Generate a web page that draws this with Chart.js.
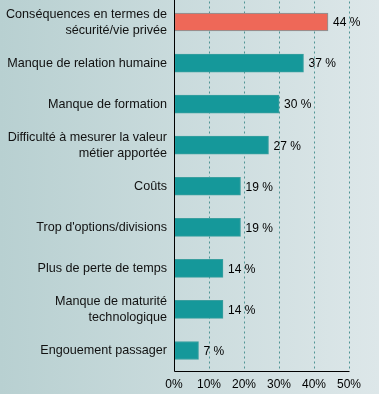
<!DOCTYPE html>
<html><head><meta charset="utf-8">
<script src="https://cdn.jsdelivr.net/npm/chart.js@4"></script>
<style>html,body{margin:0;padding:0;overflow:hidden}#w{width:379px;height:394px;position:relative}</style>
</head><body><div id="w"><canvas id="c"></canvas></div>
<script>
const categories = [
  ["Conséquences en termes de","sécurité/vie privée"],
  "Manque de relation humaine",
  "Manque de formation",
  ["Difficulté à mesurer la valeur","métier apportée"],
  "Coûts",
  "Trop d'options/divisions",
  "Plus de perte de temps",
  ["Manque de maturité","technologique"],
  "Engouement passager"
];
const values = [44, 37, 30, 27, 19, 19, 14, 14, 7];
const xTicks = [0, 10, 20, 30, 40, 50];

const barColors = values.map((v,i)=> i===0 ? '#ee6858' : '#15989a');
const borderColors = values.map((v,i)=> i===0 ? '#7f989c' : '#3a9f9f');

const bgPlugin = {
  id:'bg',
  beforeDraw(chart){
    const ctx = chart.ctx;
    const g = ctx.createLinearGradient(0,0,chart.width,0);
    g.addColorStop(0,'#b8d0d1');
    g.addColorStop(1,'#dde7e9');
    ctx.save();
    ctx.fillStyle = g;
    ctx.fillRect(0,0,chart.width,chart.height);
    ctx.restore();
  }
};
const labelPlugin = {
  id:'vals',
  afterDatasetsDraw(chart){
    const ctx = chart.ctx;
    const meta = chart.getDatasetMeta(0);
    ctx.save();
    ctx.font = '12px "Liberation Sans", Arial, sans-serif';
    ctx.fillStyle = '#000';
    ctx.textBaseline = 'middle';
    ctx.textAlign = 'left';
    meta.data.forEach((bar,i)=>{
      ctx.fillText(values[i] + ' %', bar.x + 5, bar.y + 1);
    });
    ctx.restore();
  }
};
const axisPlugin = {
  id:'axes',
  afterDraw(chart){
    const a = chart.chartArea, ctx = chart.ctx;
    ctx.save();
    ctx.strokeStyle = '#000';
    ctx.lineWidth = 1;
    ctx.beginPath();
    ctx.moveTo(Math.round(a.left)+0.5, 0);
    ctx.lineTo(Math.round(a.left)+0.5, Math.round(a.bottom)+0.5);
    ctx.lineTo(Math.round(a.right)+0.5, Math.round(a.bottom)+0.5);
    ctx.stroke();
    ctx.restore();
  }
};

new Chart(document.getElementById('c'), {
  type:'bar',
  data:{
    labels: categories,
    datasets:[{
      data: values,
      backgroundColor: barColors,
      borderColor: borderColors,
      borderWidth: 1,
      borderSkipped: false,
      barThickness: 18
    }]
  },
  options:{
    indexAxis:'y',
    responsive:true,
    maintainAspectRatio:false,
    animation:false,
    devicePixelRatio:1,
    layout:{padding:{top:1.5, right:30, left:0, bottom:0}},
    plugins:{legend:{display:false}, tooltip:{enabled:false}},
    scales:{
      x:{
        min:0, max:50,
        afterBuildTicks(scale){ scale.ticks = xTicks.map(v=>({value:v})); },
        afterFit(scale){ scale.height = 23; scale.paddingLeft = 0; scale.paddingRight = 0; },
        grid:{ color:'#4f9494', drawTicks:false, lineWidth:1 },
        border:{ display:true, width:0, color:'rgba(0,0,0,0)', dash:[2,3] },
        ticks:{ color:'#000', padding:6, font:{family:'"Liberation Sans", Arial, sans-serif', size:12},
          callback:(v)=> v + '%' }
      },
      y:{
        afterFit(scale){ scale.width = 174; scale.paddingTop = 0; scale.paddingBottom = 0; },
        grid:{ display:false, drawTicks:false },
        border:{ display:false },
        ticks:{ color:'#111', padding:7, font:{family:'"Liberation Sans", Arial, sans-serif', size:12.6, lineHeight:1.27} }
      }
    }
  },
  plugins:[bgPlugin, labelPlugin, axisPlugin]
});
</script></body></html>
